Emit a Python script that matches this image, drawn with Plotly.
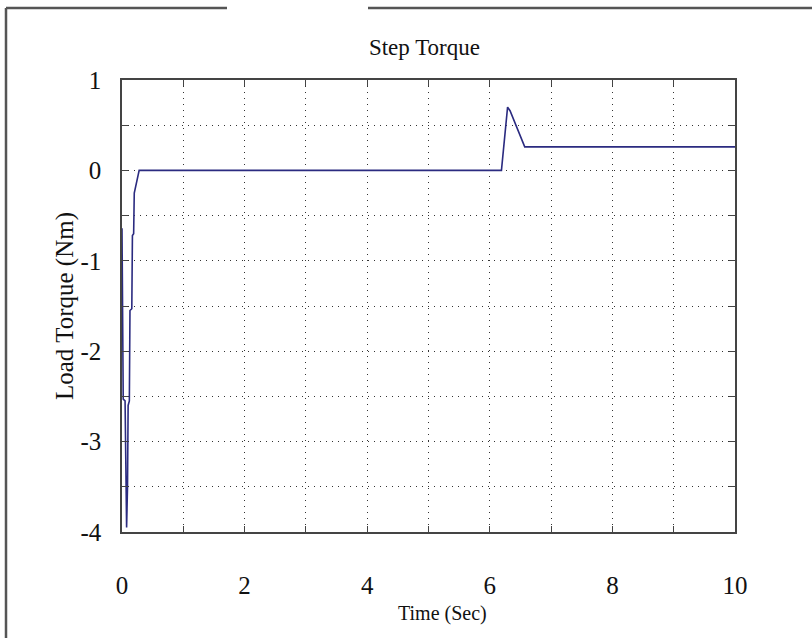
import plotly.graph_objects as go

# Load torque response to a step load (time in seconds, torque in N·m)
time_s = [0.000, 0.005, 0.015, 0.020, 0.050, 0.060, 0.065, 0.075, 0.090, 0.100,
          0.120, 0.130, 0.160, 0.170, 0.190, 0.200, 0.280,
          6.19, 6.29, 6.33, 6.57, 10.0]
torque_nm = [-0.64, -1.58, -1.58, -2.53, -2.55, -3.50, -3.55, -3.95, -3.50, -2.60,
             -2.55, -1.55, -1.53, -0.72, -0.70, -0.25, 0.00,
             0.00, 0.70, 0.66, 0.26, 0.26]

x_grid = list(range(0, 11))
x_labels = [str(v) if v % 2 == 0 else "" for v in x_grid]
y_grid = [1.0, 0.5, 0.0, -0.5, -1.0, -1.5, -2.0, -2.5, -3.0, -3.5, -4.0]
y_labels = [str(int(v)) if float(v).is_integer() else "" for v in y_grid]

FONT = "Liberation Serif, Times New Roman, serif"
AXIS_COLOR = "#444444"
TEXT_COLOR = "#111111"

fig = go.Figure()
fig.add_trace(go.Scatter(
    x=time_s, y=torque_nm, mode="lines",
    line=dict(color="#2b2b80", width=1.6),
    showlegend=False, hoverinfo="skip",
))

common = dict(
    showline=True, linecolor=AXIS_COLOR, linewidth=1.5, mirror="allticks",
    ticks="inside", ticklen=6, tickcolor=AXIS_COLOR, tickwidth=1.2,
    showgrid=True, gridcolor="#333333", gridwidth=1, griddash="1px,5px",
    zeroline=False, tickfont=dict(family=FONT, size=25, color=TEXT_COLOR),
)

fig.update_xaxes(
    range=[0, 10], tickmode="array", tickvals=x_grid, ticktext=x_labels,
    ticklabelstandoff=30,
    **common,
)
fig.update_yaxes(
    range=[-4, 1], tickmode="array", tickvals=y_grid, ticktext=y_labels,
    ticklabelstandoff=14,
    title=dict(text="Load Torque (Nm)", font=dict(family=FONT, size=25, color=TEXT_COLOR),
               standoff=0),
    **common,
)

# Plot-area geometry in pixels
L, R, T, B = 122, 735, 80, 532
def px(xp):
    return (xp - L) / (R - L)
def py(yp):
    return (B - yp) / (B - T)

# x-axis caption sits a little right of the plot centre
fig.add_annotation(text="Time (Sec)", xref="paper", yref="paper",
                   x=px(442), y=py(613), xanchor="center", yanchor="middle",
                   showarrow=False, font=dict(family=FONT, size=20, color=TEXT_COLOR))

# Outer frame: left edge and a top edge broken by a gap
frame = dict(type="line", xref="paper", yref="paper",
             line=dict(color="#555555", width=2.5))
fig.add_shape(x0=px(6), x1=px(6), y0=py(8), y1=py(640), **frame)
fig.add_shape(x0=px(6), x1=px(227), y0=py(8), y1=py(8), **frame)
fig.add_shape(x0=px(368), x1=px(814), y0=py(8), y1=py(8), **frame)

fig.update_layout(
    width=812, height=638,
    margin=dict(l=L, r=812 - R, t=T, b=638 - B),
    paper_bgcolor="white", plot_bgcolor="white",
    title=dict(text="Step Torque", x=(L + R) / 2 / 812 - 0.005, xanchor="center",
               y=1 - 47 / 638, yanchor="middle",
               font=dict(family=FONT, size=23, color=TEXT_COLOR)),
)

fig.write_html("out.html")
